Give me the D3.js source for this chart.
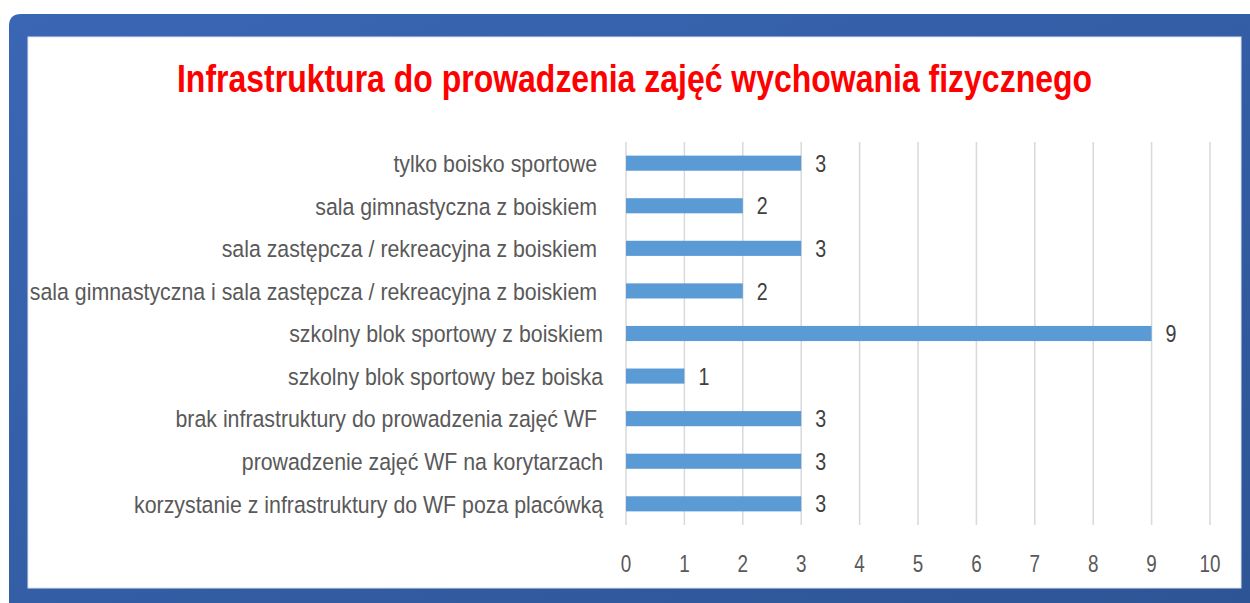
<!DOCTYPE html>
<html>
<head>
<meta charset="utf-8">
<script src="https://cdn.jsdelivr.net/npm/d3@7"></script>
<style>
  body { margin: 0; background: #fff; }
  text { white-space: pre; }
</style>
</head>
<body>
<script>
const categories = [
  "tylko boisko sportowe ",
  "sala gimnastyczna z boiskiem ",
  "sala zastępcza / rekreacyjna z boiskiem ",
  "sala gimnastyczna i sala zastępcza / rekreacyjna z boiskiem ",
  "szkolny blok sportowy z boiskiem",
  "szkolny blok sportowy bez boiska",
  "brak infrastruktury do prowadzenia zajęć WF ",
  "prowadzenie zajęć WF na korytarzach",
  "korzystanie z infrastruktury do WF poza placówką"
];
const values = [3, 2, 3, 2, 9, 1, 3, 3, 3];
const ticks = [0, 1, 2, 3, 4, 5, 6, 7, 8, 9, 10];
const title = "Infrastruktura do prowadzenia zajęć wychowania fizycznego";

const W = 1250, H = 603;
const plot = { left: 626, right: 1210, top: 142, bottom: 525 };
const font = "'Liberation Sans', Arial, sans-serif";
const squeeze = 0.87;

const svg = d3.select("body").append("svg")
  .attr("width", W).attr("height", H);

const defs = svg.append("defs");
const grad = defs.append("linearGradient").attr("id", "frame")
  .attr("x1", 0).attr("y1", 0).attr("x2", 1).attr("y2", 1);
grad.append("stop").attr("offset", 0).attr("stop-color", "#3a66b4");
grad.append("stop").attr("offset", 1).attr("stop-color", "#2d5596");

// frame
svg.append("path")
  .attr("d", `M9,${14 + 12} Q9,14 ${9 + 12},14 L1250,14 L1250,603 L9,603 Z`)
  .attr("fill", "url(#frame)");
svg.append("rect")
  .attr("x", 28).attr("y", 37).attr("width", 1241 - 28).attr("height", 588 - 37)
  .attr("fill", "#fff").attr("stroke", "#dbe4f3").attr("stroke-width", 1);

svg.append("text")
  .attr("transform", "translate(634.5,92) scale(0.82,1)")
  .attr("text-anchor", "middle")
  .attr("font-family", font)
  .attr("font-weight", "bold").attr("font-size", 39)
  .attr("fill", "#ff0000")
  .text(title);

const x = d3.scaleLinear().domain([0, 10]).range([plot.left, plot.right]);
const y = d3.scaleBand().domain(categories).range([plot.top, plot.bottom]).paddingInner(0.645).paddingOuter(0.32);

// gridlines
svg.append("g").selectAll("line")
  .data(ticks)
  .join("line")
  .attr("x1", d => x(d)).attr("x2", d => x(d))
  .attr("y1", plot.top).attr("y2", plot.bottom)
  .attr("stroke", "#d9d9d9").attr("stroke-width", 1.5);

// x tick labels
svg.append("g").selectAll("text")
  .data(ticks)
  .join("text")
  .attr("transform", d => `translate(${x(d)},572) scale(0.82,1)`)
  .attr("text-anchor", "middle")
  .attr("font-family", font).attr("font-size", 23)
  .attr("fill", "#595959")
  .text(d => d);

// category labels
svg.append("g").selectAll("text")
  .data(categories)
  .join("text")
  .attr("transform", d => `translate(603,${y(d) + y.bandwidth() / 2}) scale(${squeeze},1)`)
  .attr("dy", "0.36em")
  .attr("text-anchor", "end")
  .attr("font-family", font).attr("font-size", 24.5)
  .attr("fill", "#595959")
  .text(d => d);

// bars
svg.append("g").selectAll("rect")
  .data(values)
  .join("rect")
  .attr("x", x(0))
  .attr("y", (d, i) => y(categories[i]))
  .attr("width", d => x(d) - x(0))
  .attr("height", y.bandwidth())
  .attr("fill", "#5b9bd5");

// value labels
svg.append("g").selectAll("text")
  .data(values)
  .join("text")
  .attr("transform", (d, i) => `translate(${x(d) + 14},${y(categories[i]) + y.bandwidth() / 2}) scale(0.82,1)`)
  .attr("dy", "0.36em")
  .attr("font-family", font).attr("font-size", 24)
  .attr("fill", "#404040")
  .text(d => d);
</script>
</body>
</html>
